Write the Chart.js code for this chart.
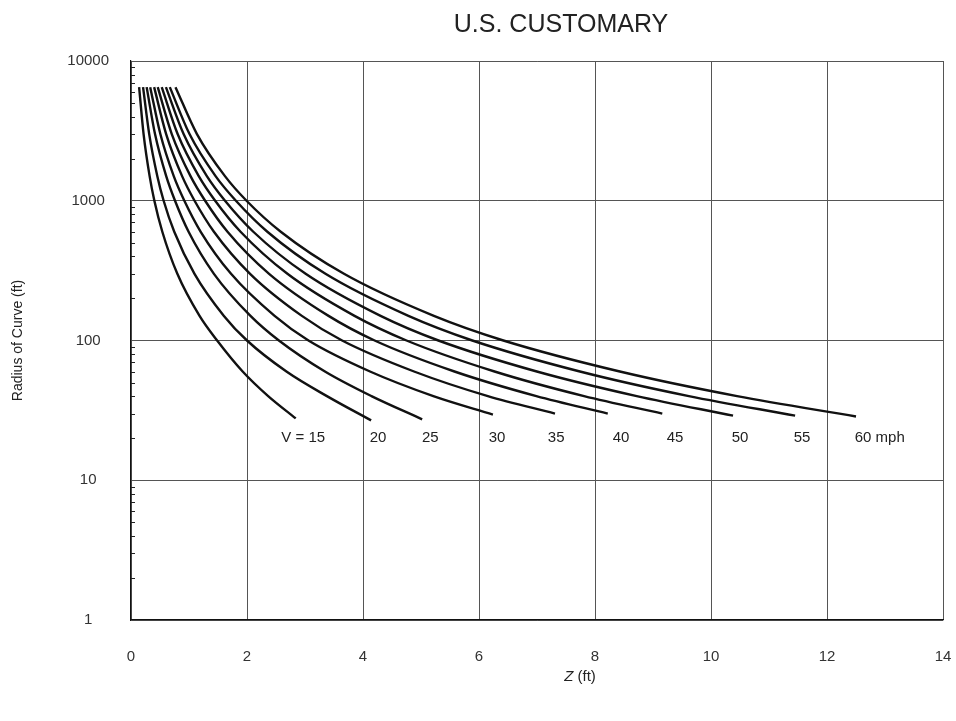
<!DOCTYPE html>
<html>
<head>
<meta charset="utf-8">
<script src="https://cdn.jsdelivr.net/npm/chart.js@4/dist/chart.umd.min.js"></script>
<style>
  html, body { margin: 0; padding: 0; background: #ffffff; }
  #wrap { width: 956px; height: 721px; position: relative; }
</style>
</head>
<body>
<div id="wrap"><canvas id="c" width="956" height="721"></canvas></div>
<script>
// ---- data ----
const chartTitle = 'U.S. CUSTOMARY';
const yTitle = 'Radius of Curve (ft)';
const speeds = [15, 20, 25, 30, 35, 40, 45, 50, 55, 60];
const curveLabels = ['V = 15', '20', '25', '30', '35', '40', '45', '50', '55', '60 mph'];
const labelZ = [2.97, 4.26, 5.16, 6.31, 7.33, 8.45, 9.38, 10.5, 11.57, 12.91];
const labelR = 20;

// radius values (ft) at which Z was read for every curve; the last one is each curve's end
const rCommon = [6500, 3000, 1500, 1000, 600, 300, 150, 100, 60, 40];
const rEnd = [27.7, 26.8, 27.3, 29.5, 30, 30, 30, 29, 29, 28.6];

const z15 = [0.14, 0.217, 0.321, 0.403, 0.540, 0.799, 1.182, 1.485, 1.925, 2.365, 2.84];
const z20 = [0.208, 0.314, 0.454, 0.563, 0.746, 1.095, 1.602, 2.0, 2.680, 3.378, 4.14];
const z25 = [0.270, 0.414, 0.607, 0.759, 0.993, 1.430, 2.060, 2.55, 3.344, 4.146, 5.02];
const z30 = [0.331, 0.506, 0.737, 0.920, 1.202, 1.725, 2.476, 3.06, 4.121, 5.213, 6.24];
const z35 = [0.399, 0.606, 0.881, 1.096, 1.430, 2.053, 2.946, 3.64, 4.880, 6.153, 7.31];
const z40 = [0.461, 0.703, 1.026, 1.278, 1.664, 2.381, 3.406, 4.2, 5.577, 6.989, 8.22];
const z45 = [0.530, 0.804, 1.168, 1.451, 1.889, 2.697, 3.854, 4.75, 6.268, 7.812, 9.16];
const z50 = [0.602, 0.907, 1.308, 1.621, 2.109, 3.011, 4.303, 5.3, 6.997, 8.72, 10.38];
const z55 = [0.669, 1.009, 1.458, 1.809, 2.351, 3.353, 4.783, 5.885, 7.740, 9.618, 11.45];
const z60 = [0.767, 1.137, 1.620, 1.992, 2.582, 3.672, 5.222, 6.42, 8.428, 10.45, 12.5];

const xTicks = [0, 2, 4, 6, 8, 10, 12, 14];
const yMajor = [1, 10, 100, 1000, 10000];
const yMinorFactors = [2, 3, 4, 5, 6, 7, 8, 9];

const zSeries = [z15, z20, z25, z30, z35, z40, z45, z50, z55, z60];

const datasets = speeds.map((v, i) => ({
  label: 'V = ' + v,
  data: zSeries[i].map((z, j) => ({ x: z, y: j < rCommon.length ? rCommon[j] : rEnd[i] })),
  showLine: true,
  borderColor: '#111111',
  borderWidth: 2.4,
  pointRadius: 0,
  fill: false,
  cubicInterpolationMode: 'monotone'
}));

const FONT = 'Arial, "Liberation Sans", Helvetica, sans-serif';

const decorPlugin = {
  id: 'decor',
  afterDraw(chart) {
    const ctx = chart.ctx;
    const xs = chart.scales.x, ys = chart.scales.y;
    const area = chart.chartArea;
    ctx.save();
    // minor inward ticks on the y axis
    ctx.strokeStyle = '#222';
    ctx.lineWidth = 1;
    yMajor.slice(0, -1).forEach(d => {
      yMinorFactors.forEach(m => {
        const py = Math.round(ys.getPixelForValue(d * m)) + 0.5;
        ctx.beginPath();
        ctx.moveTo(area.left, py);
        ctx.lineTo(area.left + 4, py);
        ctx.stroke();
      });
    });
    // curve labels
    ctx.fillStyle = '#222';
    ctx.font = '15px ' + FONT;
    ctx.textAlign = 'center';
    ctx.textBaseline = 'middle';
    curveLabels.forEach((t, i) => {
      ctx.fillText(t, xs.getPixelForValue(labelZ[i]), ys.getPixelForValue(labelR));
    });
    // title
    ctx.fillStyle = '#222';
    ctx.font = '25px ' + FONT;
    ctx.textAlign = 'center';
    ctx.textBaseline = 'alphabetic';
    ctx.fillText(chartTitle, 561, 32);
    // x axis title: italic Z + (ft)
    ctx.font = 'italic 15px ' + FONT;
    const wz = ctx.measureText('Z').width;
    ctx.font = '15px ' + FONT;
    const wr = ctx.measureText(' (ft)').width;
    const x0 = 580 - (wz + wr) / 2;
    ctx.textAlign = 'left';
    ctx.textBaseline = 'middle';
    ctx.font = 'italic 15px ' + FONT;
    ctx.fillText('Z', x0, 677);
    ctx.font = '15px ' + FONT;
    ctx.fillText(' (ft)', x0 + wz, 677);
    ctx.restore();
  }
};

new Chart(document.getElementById('c'), {
  type: 'scatter',
  data: { datasets },
  options: {
    responsive: false,
    animation: false,
    events: [],
    layout: { padding: { left: 0, right: 13, top: 61, bottom: 0 } },
    plugins: { legend: { display: false }, tooltip: { enabled: false }, title: { display: false } },
    scales: {
      x: {
        type: 'linear',
        min: 0, max: 14,
        afterBuildTicks: (s) => { s.ticks = xTicks.map(v => ({ value: v })); },
        afterFit: (s) => { s.height = 101; s.paddingRight = 0; s.paddingLeft = 0; },
        grid: { color: '#555', lineWidth: 1, drawTicks: false },
        border: { color: '#111', width: 1.2 },
        ticks: { padding: 28, color: '#333', font: { size: 15, family: FONT }, autoSkip: false, maxRotation: 0 },
        title: { display: false }
      },
      y: {
        type: 'logarithmic',
        min: 1, max: 10000,
        afterBuildTicks: (s) => { s.ticks = yMajor.map(v => ({ value: v })); },
        afterFit: (s) => { s.width = 131; },
        grid: { color: '#555', lineWidth: 1, drawTicks: false },
        border: { color: '#111', width: 1.2 },
        ticks: {
          padding: 22, crossAlign: 'center', color: '#333', autoSkip: false,
          font: { size: 15, family: FONT },
          callback: (v) => String(v)
        },
        title: { display: true, text: yTitle, color: '#222', font: { size: 14, family: FONT }, padding: { top: 10, bottom: 0 } }
      }
    }
  },
  plugins: [decorPlugin]
});
</script>
</body>
</html>
